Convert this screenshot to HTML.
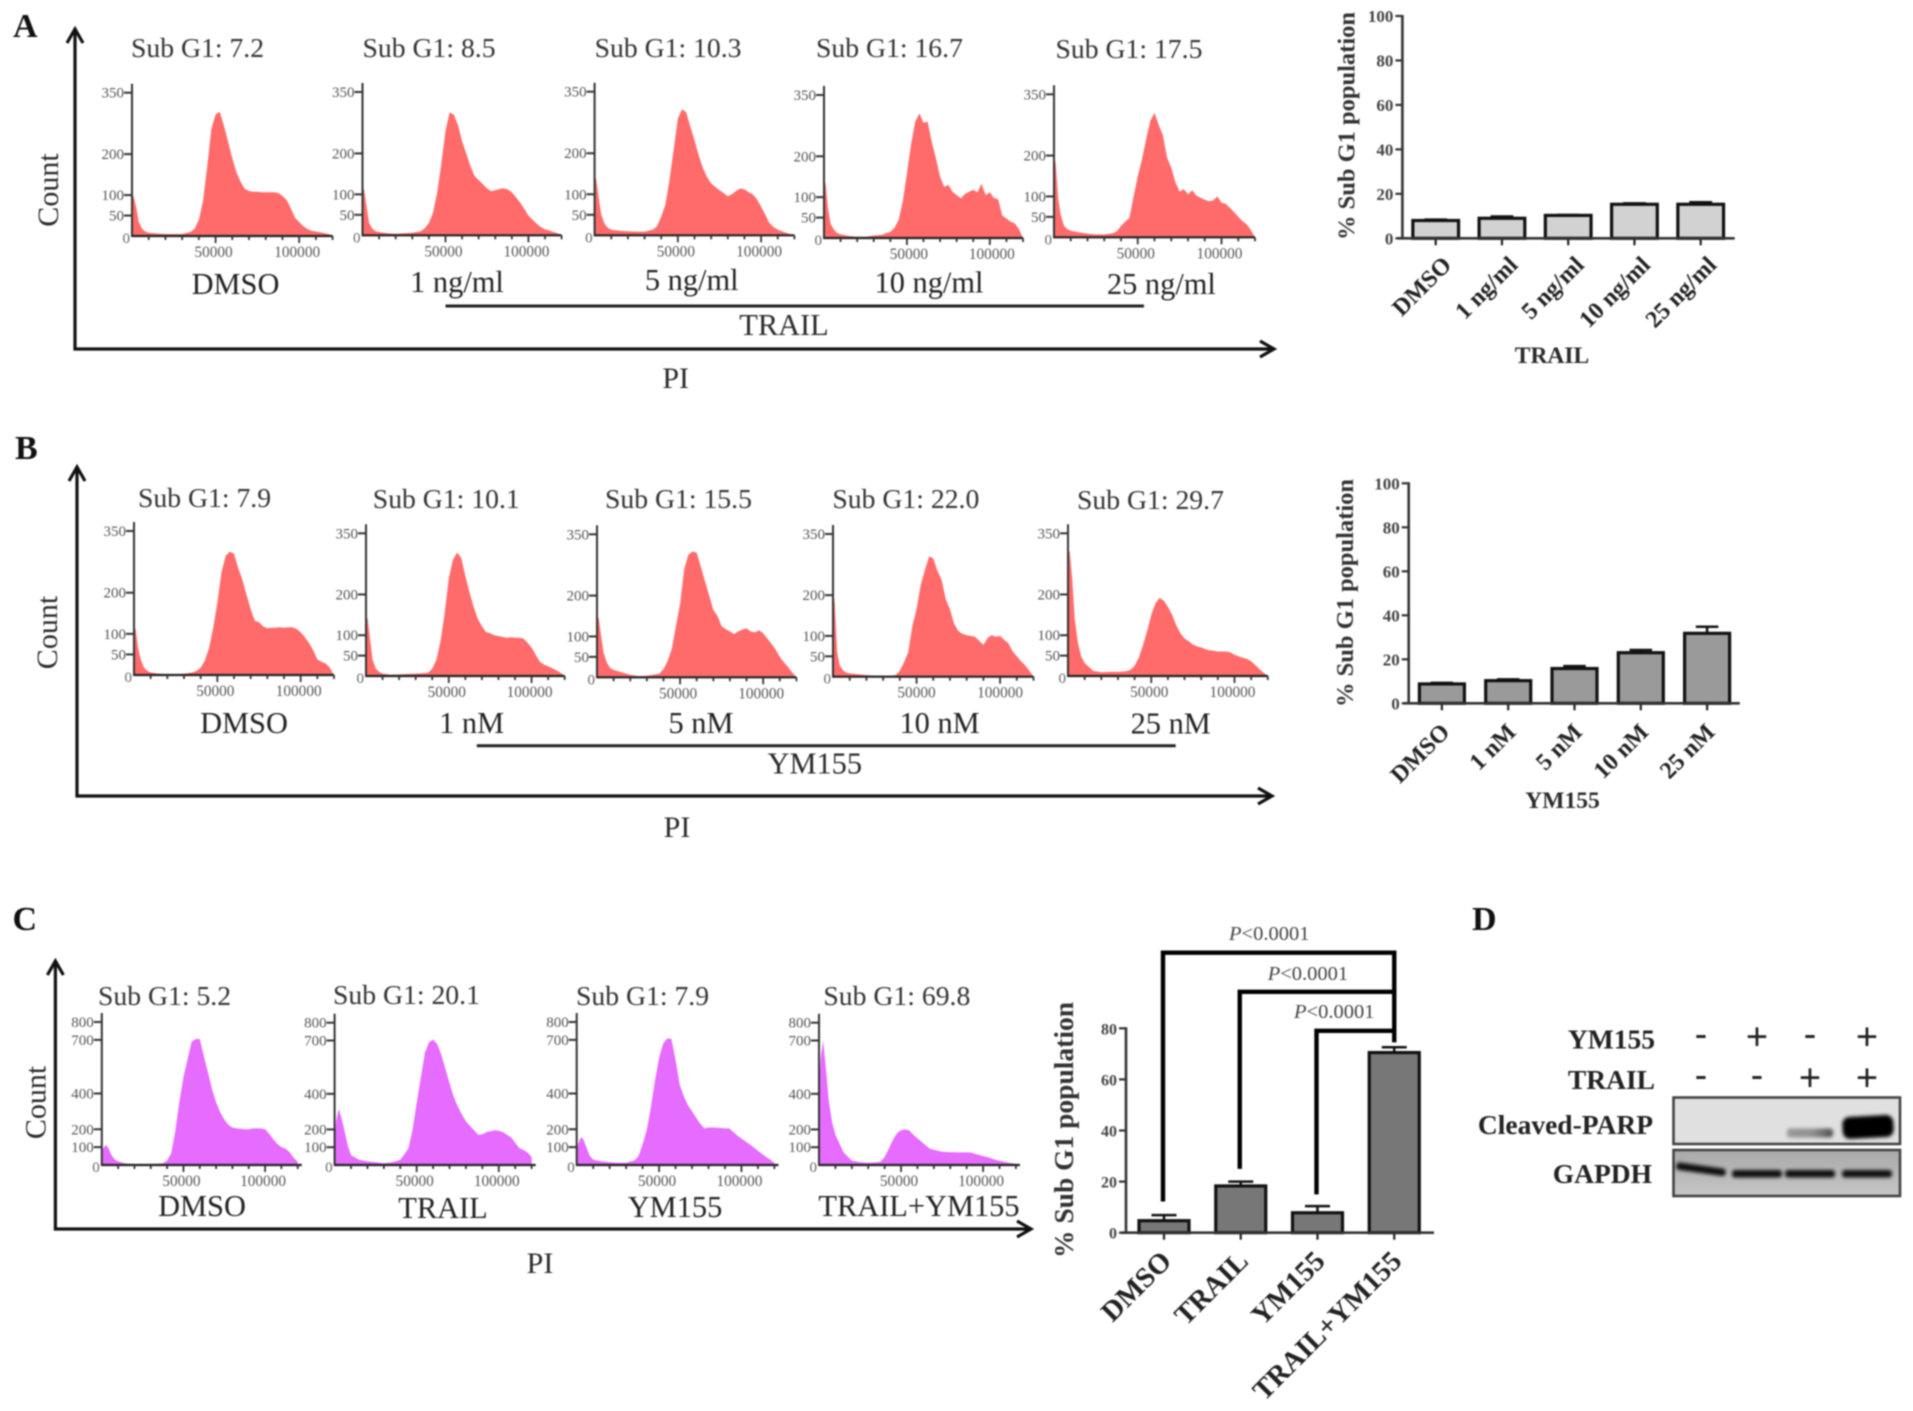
<!DOCTYPE html>
<html lang="en">
<head>
<meta charset="utf-8">
<title>Sub G1 population flow cytometry figure</title>
<style>
html,body{margin:0;padding:0;background:#fff;}
body{width:1913px;height:1411px;overflow:hidden;}
#figure{display:block;filter:blur(0.8px);}
text{font-family:"Liberation Serif","DejaVu Serif",serif;}
</style>
</head>
<body>
<svg id="figure" xmlns="http://www.w3.org/2000/svg" width="1913" height="1411" viewBox="0 0 1913 1411">
<defs>
<filter id="band-blur" x="-30%" y="-100%" width="160%" height="300%"><feGaussianBlur stdDeviation="1.8"/></filter>
<linearGradient id="faint-band" x1="0" y1="0" x2="1" y2="0"><stop offset="0" stop-color="#000" stop-opacity="0.5"/><stop offset="0.55" stop-color="#000" stop-opacity="0.55"/><stop offset="1" stop-color="#000" stop-opacity="1"/></linearGradient>
<linearGradient id="gapdh-membrane-fill" x1="0" y1="0" x2="0" y2="1"><stop offset="0" stop-color="#a9a9a9"/><stop offset="1" stop-color="#c6c6c6"/></linearGradient>
</defs>
<rect x="0" y="0" width="1913" height="1411" fill="#fff"/>
</svg>
<script>
// ---------- Histogram data (PI value bins shared by all histograms) ----------
const piBins = [0,1000,2500,4000,6000,8000,10000,15000,20000,25000,30000,35000,37500,40000,42500,45000,47500,50000,52500,55000,57500,60000,62500,65000,67500,70000,72500,75000,77500,80000,82500,85000,87500,90000,92500,95000,97500,100000,102500,105000,107500,110000,112500,115000,117500,120000];

const countsA1 = [100,96,70,35,18,11,8,6,5,5,5,10,18,40,85,170,262,297,303,270,230,190,155,132,115,110,108,108,107,107,107,107,105,98,88,68,45,34,24,17,13,11,9,7,5,0];
const countsA2 = [118,110,70,30,16,10,8,5,4,5,6,10,17,30,55,105,175,255,300,295,270,230,200,170,145,135,125,115,108,110,113,115,112,105,93,80,65,48,38,28,20,15,12,8,5,1];
const countsA3 = [147,135,90,50,28,18,14,11,10,9,9,14,22,45,75,135,210,285,307,300,265,232,195,165,142,127,118,110,103,95,100,108,114,112,105,100,88,70,50,30,20,14,10,6,3,0];
const countsA4 = [150,130,70,35,20,12,9,5,3,3,6,8,12,15,25,44,90,158,230,285,305,282,285,235,195,150,125,130,113,105,97,108,113,118,112,133,105,112,98,95,55,48,40,36,22,0];
const countsA5 = [200,180,95,55,28,20,16,12,9,7,7,10,15,28,38,48,100,150,190,240,285,305,275,250,195,170,135,112,118,105,115,102,97,92,88,90,100,85,82,72,62,50,40,32,18,0];

const countsB1 = [122,110,65,38,18,10,6,3,2,2,3,6,10,18,35,65,115,175,250,290,300,295,260,232,195,160,132,128,118,114,115,115,116,115,116,116,112,104,92,78,60,38,32,28,18,0];
const countsB2 = [148,140,90,40,18,10,6,3,4,5,6,7,8,18,40,85,155,240,285,303,290,245,205,170,140,122,108,105,100,98,96,94,95,94,94,92,82,70,52,35,28,24,19,14,8,0];
const countsB3 = [150,145,100,60,35,22,18,12,6,3,4,7,9,20,40,70,125,180,265,300,308,305,270,235,200,165,150,125,118,112,106,112,117,120,112,110,115,108,95,82,68,50,37,25,12,0];
const countsB4 = [220,180,60,28,16,10,8,6,4,3,3,3,4,15,35,60,125,165,225,262,295,290,260,238,190,165,130,112,105,102,100,98,88,78,95,102,98,100,90,82,62,50,38,28,15,0];
const countsB5 = [305,305,240,140,80,47,32,13,9,10,10,12,15,25,45,75,110,150,178,192,185,170,150,125,105,92,85,77,73,70,66,63,62,60,60,60,58,52,48,45,42,36,27,17,8,0];

const countsC1 = [85,95,112,95,55,30,20,8,6,6,6,8,10,25,65,190,355,490,590,690,705,705,610,520,425,350,295,255,225,210,205,203,200,200,205,205,205,200,175,145,118,100,92,72,40,18];
const countsC2 = [130,250,315,270,195,110,55,30,20,15,10,15,22,30,60,95,200,350,490,630,690,705,680,620,540,460,385,330,285,245,220,195,170,172,185,190,195,193,185,170,155,125,95,85,70,45];
const countsC3 = [80,120,155,145,95,50,30,20,15,13,13,25,50,115,195,320,470,600,680,708,705,590,450,385,335,300,265,230,205,210,210,208,207,205,205,185,165,148,132,115,98,80,62,45,30,12];
const countsC4 = [400,600,700,560,360,240,170,70,25,15,13,15,18,45,90,140,178,195,200,195,170,150,130,110,92,85,80,75,73,72,72,71,71,71,70,63,57,50,45,37,30,24,19,14,10,6];

const subG1A = [7.2,8.5,10.3,16.7,17.5];
const subG1B = [7.9,10.1,15.5,22.0,29.7];
const subG1C = [5.2,20.1,7.9,69.8];

const histTicksAB = [0,50,100,200,350];
const histTicksC = [0,100,200,400,700,800];
const piTickLabels = [50000,100000];

const doseLabelsA = ['DMSO','1 ng/ml','5 ng/ml','10 ng/ml','25 ng/ml'];
const doseLabelsB = ['DMSO','1 nM','5 nM','10 nM','25 nM'];
const treatmentLabelsC = ['DMSO','TRAIL','YM155','TRAIL+YM155'];

// ---------- Bar chart data ----------
const barValuesA = [8,9,10.3,15.3,15.3];
const barErrorsA = [0.4,0.8,0.2,0.4,0.9];
const barValuesB = [8.8,10.3,15.8,23,31.8];
const barErrorsB = [0.5,0.6,1.1,1.2,3];
const barValuesC = [4.7,18.3,7.8,70.5];
const barErrorsC = [2.2,1.7,2.6,2.1];
const barTicksAB = [0,20,40,60,80,100];
const barTicksC = [0,20,40,60,80];
const bracketTopLevels = [109.6,94.3,79];
const bracketStartLevels = [12.2,25,15];
const bracketEndLevel = 74.5;
const pValueLabel = '<0.0001';

// ---------- Western blot data ----------
const blotYM155 = ['-','+','-','+'];
const blotTRAIL = ['-','-','+','+'];
const parpIntensity = [0,0,0.38,1];
const gapdhIntensity = [0.92,0.92,0.92,0.92];

// ---------- Helpers ----------
const SVGNS = 'http://www.w3.org/2000/svg';
const root = document.getElementById('figure');

function make(tag, parent, props) {
  const el = document.createElementNS(SVGNS, tag);
  for (const k in props) { if (k !== 'text') el.setAttribute(k, props[k]); }
  if (props.text !== undefined) el.textContent = props.text;
  parent.appendChild(el);
  return el;
}
function group(parent) { return make('g', parent, {}); }

function drawLabel(parent, str, x, y, size, anchor, extra) {
  return make('text', parent, Object.assign({x:x, y:y, 'font-size':size, 'text-anchor':anchor, fill:'#2a2a2a', text:str}, extra || {}));
}

function drawFrame(id, x0, yTop, yBase, xEnd) {
  const g = group(root);
  
  
  const yAxis = make('line', g, {x1:x0, y1:yTop, x2:x0, y2:yBase+1.5, stroke:'#111', 'stroke-width':3.2});
  
  
  const xAxis = make('line', g, {x1:x0-1.5, y1:yBase, x2:xEnd, y2:yBase, stroke:'#111', 'stroke-width':3.2});
  
  
  const upHead = make('polyline', g, {points:(x0-8)+','+(yTop+14)+' '+x0+','+yTop+' '+(x0+8)+','+(yTop+14), fill:'none', stroke:'#111', 'stroke-width':3.2});
  
  
  const rightHead = make('polyline', g, {points:(xEnd-14)+','+(yBase-8)+' '+xEnd+','+yBase+' '+(xEnd-14)+','+(yBase+8), fill:'none', stroke:'#111', 'stroke-width':3.2});
  
  
}

function drawHistogram(id, layout, counts, yTicks, yMax, xMax, fill) {
  const g = group(root);
  
  
  const xScale = v => layout.x0 + (v / xMax) * (layout.xEnd - layout.x0);
  const yScale = v => layout.base - (v / yMax) * (layout.base - layout.yMax);

  let d = 'M' + xScale(piBins[0]) + ' ' + layout.base;
  counts.forEach((c, i) => { d += ' L' + xScale(piBins[i]).toFixed(1) + ' ' + yScale(c).toFixed(1); });
  d += ' L' + xScale(piBins[counts.length - 1]).toFixed(1) + ' ' + layout.base + ' Z';
  const area = make('path', g, {d:d, fill:fill});
  
  

  const yAxis = make('line', g, {x1:layout.x0, y1:layout.yMax-9, x2:layout.x0, y2:layout.base+1, stroke:'#333', 'stroke-width':2});
  
  
  const xAxis = make('line', g, {x1:layout.x0, y1:layout.base, x2:layout.xEnd, y2:layout.base, stroke:'#222', 'stroke-width':2.2});
  
  

  yTicks.forEach(t => {
    if (t === 0) {
      const zero = drawLabel(g, '0', layout.x0 - 2, layout.base + 7, 15, 'end', {fill:'#666'});
      
      
      return;
    }
    const mark = make('line', g, {x1:layout.x0-8, y1:yScale(t), x2:layout.x0, y2:yScale(t), stroke:'#333', 'stroke-width':2});
    
    
    const lab = drawLabel(g, String(t), layout.x0 - 8, yScale(t) + 5, 15, 'end', {fill:'#555'});
    
    
  });
  for (let v = 10000; v <= 120000; v += 10000) {
    const major = v % 50000 === 0;
    const mark = make('line', g, {x1:xScale(v), y1:layout.base, x2:xScale(v), y2:layout.base + (major ? 7 : 4), stroke:'#333', 'stroke-width':1.8});
    
    
  }
  piTickLabels.forEach(v => {
    const lab = drawLabel(g, String(v), xScale(v) - 2 + (layout.tickDx || 0), layout.base + 21, 15.3, 'middle', {fill:'#555'});
    
    
  });

  const title = drawLabel(g, 'Sub G1: ' + layout.sub.toFixed(1), layout.subX, layout.subY, 27.7, 'start', {fill:'#333'});
  
  
  const cond = drawLabel(g, layout.cond, layout.condX, layout.condY, 30.4, 'middle', {fill:'#222'});
  
  
}

function drawBars(id, layout, categories, values, errors, ticks) {
  const g = group(root);
  
  
  const yScale = v => layout.y0 - (v / layout.vMax) * (layout.y0 - layout.yTop);
  const xCenter = i => layout.first + layout.step * i;
  layout.yScale = yScale;
  layout.xCenter = xCenter;

  values.forEach((v, i) => {
    const cx = xCenter(i);
    const top = yScale(v + errors[i]);
    const stem = make('line', g, {x1:cx, y1:yScale(v), x2:cx, y2:top, stroke:'#111', 'stroke-width':2.5});
    
    
    const cap = make('line', g, {x1:cx-layout.barW*0.25, y1:top, x2:cx+layout.barW*0.25, y2:top, stroke:'#111', 'stroke-width':2.5});
    
    
    const bar = make('rect', g, {x:cx-layout.barW/2, y:yScale(v), width:layout.barW, height:layout.y0-yScale(v), fill:layout.fill, stroke:'#111', 'stroke-width':3.2});
    
    
    const mark = make('line', g, {x1:cx, y1:layout.y0, x2:cx, y2:layout.y0+7, stroke:'#222', 'stroke-width':2.2});
    
    
    const ex = cx + layout.labDx, ey = layout.y0 + layout.labDy;
    const lab = drawLabel(g, categories[i], ex, ey, layout.catSize, 'end', {'font-weight':'bold', fill:'#222', transform:'rotate(-45 ' + ex + ' ' + ey + ')'});
    
    
  });

  const yAxis = make('line', g, {x1:layout.xAxis, y1:layout.yTop-1, x2:layout.xAxis, y2:layout.y0+1, stroke:'#333', 'stroke-width':2.6});
  
  
  const xAxis = make('line', g, {x1:layout.xAxis-5, y1:layout.y0, x2:layout.xRight, y2:layout.y0, stroke:'#333', 'stroke-width':2.6});
  
  
  ticks.forEach(t => {
    const mark = make('line', g, {x1:layout.xAxis-7, y1:yScale(t), x2:layout.xAxis, y2:yScale(t), stroke:'#333', 'stroke-width':2.2});
    
    
    const lab = drawLabel(g, String(t), layout.xAxis - 9, yScale(t) + 6, layout.tickSize, 'end', {'font-weight':'bold', fill:'#444'});
    
    
  });
  const ty = layout.titleY;
  const title = drawLabel(g, '% Sub G1 population', layout.titleX, ty, layout.titleSize, 'middle', {'font-weight':'bold', fill:'#333', transform:'rotate(-90 ' + layout.titleX + ' ' + ty + ')'});
  
  
  return layout;
}

// ---------- Panel letters ----------
[['A',13,37],['B',15,459],['C',12.5,930],['D',1472,930]].forEach(p => {
  const l = drawLabel(root, p[0], p[1], p[2], 34, 'start', {'font-weight':'bold', fill:'#111'});
  
  
});

// ---------- Panel A ----------
drawFrame('a', 75, 29, 349, 1274);
const fillRed = '#ff6b6b';
drawHistogram('a1', {x0:132,base:236,yMax:92.7,xEnd:332.6,sub:subG1A[0],subX:131,subY:57,cond:doseLabelsA[0],condX:235.5,condY:294}, countsA1, histTicksAB, 350, 120000, fillRed);
drawHistogram('a2', {x0:362.5,base:235.3,yMax:92,xEnd:561.6,sub:subG1A[1],subX:362.5,subY:57,cond:doseLabelsA[1],condX:457,condY:292}, countsA2, histTicksAB, 350, 120000, fillRed);
drawHistogram('a3', {x0:594.6,base:235.3,yMax:91.7,xEnd:794.4,sub:subG1A[2],subX:594.6,subY:57,cond:doseLabelsA[2],condX:691.7,condY:290}, countsA3, histTicksAB, 350, 120000, fillRed);
drawHistogram('a4', {x0:824,base:238,yMax:95,xEnd:1023,tickDx:4,sub:subG1A[3],subX:816,subY:57,cond:doseLabelsA[3],condX:929,condY:292.7}, countsA4, histTicksAB, 350, 120000, fillRed);
drawHistogram('a5', {x0:1054,base:237.3,yMax:94.3,xEnd:1255,sub:subG1A[4],subX:1055.5,subY:58,cond:doseLabelsA[4],condX:1161.4,condY:294}, countsA5, histTicksAB, 350, 120000, fillRed);

const trailLineA = make('line', root, {x1:445.5, y1:306, x2:1144, y2:306, stroke:'#222', 'stroke-width':3});


const trailTextA = drawLabel(root, 'TRAIL', 784, 335, 30.4, 'middle');


const piA = drawLabel(root, 'PI', 675.7, 388, 30, 'middle');


const countA = drawLabel(root, 'Count', 58, 190, 30, 'middle', {transform:'rotate(-90 58 190)'});



drawBars('a', {y0:238.3,yTop:16,vMax:100,first:1435.7,step:66.25,barW:45.7,fill:'#d2d2d2',xAxis:1402.4,xRight:1734.7,labDx:17,labDy:28,catSize:24,tickSize:17,titleX:1354.7,titleY:126,titleSize:24.5}, doseLabelsA, barValuesA, barErrorsA, barTicksAB);
const barTitleA = drawLabel(root, 'TRAIL', 1552, 363, 23.5, 'middle', {'font-weight':'bold'});



// ---------- Panel B ----------
drawFrame('b', 77, 467, 796, 1272);
drawHistogram('b1', {x0:134,base:675,yMax:531,xEnd:334,sub:subG1B[0],subX:138,subY:507,cond:doseLabelsB[0],condX:244,condY:733}, countsB1, histTicksAB, 350, 120000, fillRed);
drawHistogram('b2', {x0:366,base:676,yMax:533.3,xEnd:564.7,sub:subG1B[1],subX:372.8,subY:508,cond:doseLabelsB[1],condX:471.6,condY:733}, countsB2, histTicksAB, 350, 120000, fillRed);
drawHistogram('b3', {x0:597,base:677.3,yMax:534.3,xEnd:796.4,sub:subG1B[2],subX:605,subY:508,cond:doseLabelsB[2],condX:701,condY:733}, countsB3, histTicksAB, 350, 120000, fillRed);
drawHistogram('b4', {x0:833,base:676.7,yMax:534,xEnd:1033.5,tickDx:2,sub:subG1B[3],subX:832.4,subY:508,cond:doseLabelsB[3],condX:939.6,condY:733}, countsB4, histTicksAB, 350, 120000, fillRed);
drawHistogram('b5', {x0:1068,base:676,yMax:533.3,xEnd:1267.8,sub:subG1B[4],subX:1077,subY:509,cond:doseLabelsB[4],condX:1170.7,condY:733.6}, countsB5, histTicksAB, 350, 120000, fillRed);

const ymLineB = make('line', root, {x1:476.8, y1:745.7, x2:1175.7, y2:745.7, stroke:'#222', 'stroke-width':3});


const ymTextB = drawLabel(root, 'YM155', 814.8, 773.5, 30.4, 'middle');


const piB = drawLabel(root, 'PI', 677, 837, 30, 'middle');


const countB = drawLabel(root, 'Count', 57, 632.5, 30, 'middle', {transform:'rotate(-90 57 632.5)'});



drawBars('b', {y0:703.3,yTop:483.3,vMax:100,first:1441.9,step:66.3,barW:45,fill:'#9a9a9a',xAxis:1408.7,xRight:1739.8,labDx:9,labDy:30,catSize:24,tickSize:17,titleX:1352.8,titleY:593,titleSize:24.5}, doseLabelsB, barValuesB, barErrorsB, barTicksAB);
const barTitleB = drawLabel(root, 'YM155', 1562.5, 808, 23.5, 'middle', {'font-weight':'bold'});



// ---------- Panel C ----------
drawFrame('c', 55.4, 961, 1229, 1031);
const fillViolet = '#e66bff';
drawHistogram('c1', {x0:101.8,base:1165,yMax:1022,xEnd:301.8,sub:subG1C[0],subX:98,subY:1005,cond:treatmentLabelsC[0],condX:202,condY:1216}, countsC1, histTicksC, 800, 122500, fillViolet);
drawHistogram('c2', {x0:334.6,base:1165,yMax:1022.7,xEnd:535.7,sub:subG1C[1],subX:333,subY:1004,cond:treatmentLabelsC[1],condX:443,condY:1218}, countsC2, histTicksC, 800, 122500, fillViolet);
drawHistogram('c3', {x0:576.7,base:1165,yMax:1022,xEnd:778.5,sub:subG1C[2],subX:576,subY:1005,cond:treatmentLabelsC[2],condX:675,condY:1217}, countsC3, histTicksC, 800, 122500, fillViolet);
drawHistogram('c4', {x0:819,base:1165,yMax:1022.7,xEnd:1020,sub:subG1C[3],subX:823.4,subY:1005,cond:treatmentLabelsC[3],condX:919,condY:1216}, countsC4, histTicksC, 800, 122500, fillViolet);

const piC = drawLabel(root, 'PI', 540, 1273, 30, 'middle');


const countC = drawLabel(root, 'Count', 45.7, 1102.5, 30, 'middle', {transform:'rotate(-90 45.7 1102.5)'});



const barC = drawBars('c', {y0:1232.7,yTop:1028.3,vMax:80,first:1164,step:76.75,barW:50,fill:'#777',xAxis:1126,xRight:1434,labDx:9,labDy:30,catSize:28.5,tickSize:16,titleX:1073,titleY:1130,titleSize:27.5}, treatmentLabelsC, barValuesC, barErrorsC, barTicksC);

const bracketGroup = group(root);


const bracketRightX = barC.xCenter(3);
const pItalicOffsets = [[1229,940],[1267.7,980],[1294,1018]];
bracketTopLevels.forEach((lvl, i) => {
  const topY = barC.yScale(lvl);
  const startX = barC.xCenter(i) - 1;
  const br = make('polyline', bracketGroup, {points:startX+','+barC.yScale(bracketStartLevels[i])+' '+startX+','+topY+' '+bracketRightX+','+topY, fill:'none', stroke:'#000', 'stroke-width':4.4});
  
  
  const t = make('text', bracketGroup, {x:pItalicOffsets[i][0], y:pItalicOffsets[i][1], 'font-size':20.5, fill:'#444'});
  
  
  const ital = make('tspan', t, {'font-style':'italic', text:'P'});
  
  
  const rest = make('tspan', t, {text:pValueLabel});
  
  
});
const bracketSpine = make('line', bracketGroup, {x1:bracketRightX, y1:barC.yScale(bracketTopLevels[0])-2.2, x2:bracketRightX, y2:barC.yScale(bracketEndLevel), stroke:'#000', 'stroke-width':4.4});



// ---------- Panel D (western blot) ----------
const blot = group(root);


const laneCenters = i => [1701, 1757, 1810, 1867][i];
const blotSignY = [1036.7, 1077.7];
[['YM155',1655,1048.3],['TRAIL',1655,1089],['Cleaved-PARP',1653,1134],['GAPDH',1652,1183]].forEach(r => {
  const lab = drawLabel(blot, r[0], r[1], r[2], 27.5, 'end', {'font-weight':'bold', fill:'#222'});
  
  
});
[blotYM155, blotTRAIL].forEach((row, r) => {
  row.forEach((s, i) => {
    const sy = blotSignY[r] + (s === '+' ? 13 : 10);
    const sign = make('text', blot, {x:laneCenters(i), y:sy, 'font-size':38, 'text-anchor':'middle', fill:'#222', text:s});
    sign.style.fontFamily = '"Liberation Sans",sans-serif';
    
    
  });
});
const parpBox = make('rect', blot, {x:1673.5, y:1097.5, width:226.5, height:46.5, fill:'#e0e0e0', stroke:'#444', 'stroke-width':2.6});


const gapdhBox = make('rect', blot, {x:1673.5, y:1150, width:226.5, height:46, fill:'url(#gapdh-membrane-fill)', stroke:'#444', 'stroke-width':2.6});


parpIntensity.forEach((v, i) => {
  if (v <= 0) return;
  const strong = v > 0.5;
  const h = strong ? 22 : 9;
  const w = strong ? 51 : 46;
  const cy = strong ? 1127 : 1133;
  const band = make('rect', blot, {x:laneCenters(i)-w/2+(strong?1:0), y:cy-h/2, width:w, height:h, rx:h/3, fill:strong ? '#000' : 'url(#faint-band)', opacity:strong ? v : v*1.7, filter:'url(#band-blur)', transform:strong ? 'rotate(-3 '+laneCenters(i)+' '+cy+')' : ''});
  
  
});
gapdhIntensity.forEach((v, i) => {
  const firstLane = i === 0;
  const band = make('rect', blot, {x:laneCenters(i)-25, y:firstLane ? 1165.5 : 1170, width:50, height:7.5, rx:3, fill:'#000', opacity:v, filter:'url(#band-blur)', transform:firstLane ? 'rotate(8 '+laneCenters(i)+' 1169)' : ''});
  
  
});
</script>
</body>
</html>
